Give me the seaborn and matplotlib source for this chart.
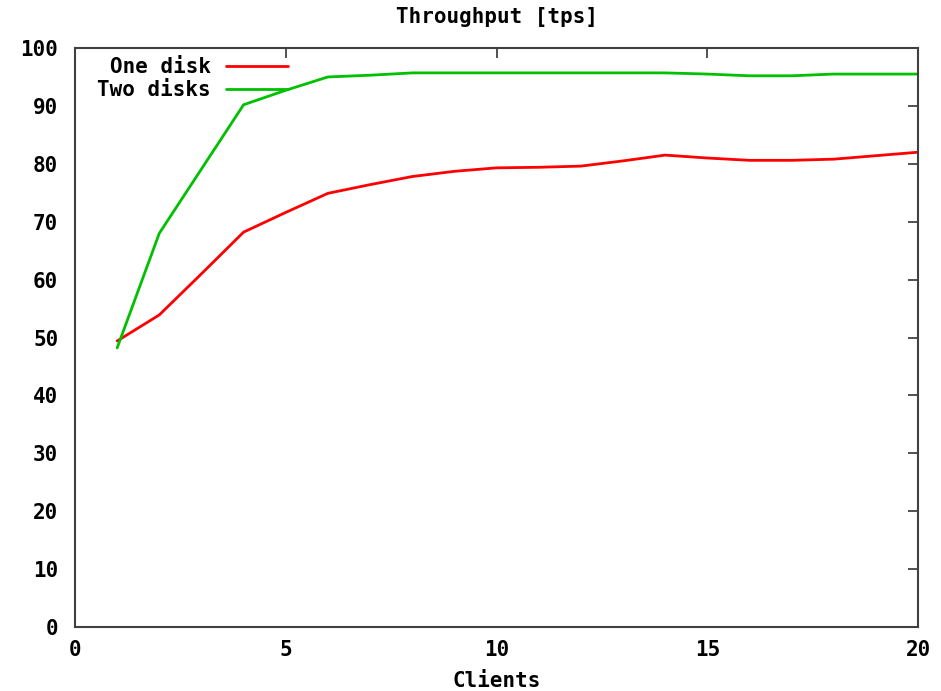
import matplotlib
matplotlib.use("Agg")
import matplotlib.pyplot as plt
import seaborn as sns
import pandas as pd

clients = [1, 2, 3, 4, 5, 6, 7, 8, 9, 10, 11, 12, 13, 14, 15, 16, 17, 18, 19, 20]
one_disk = [49.4, 53.9, 61.0, 68.2, 71.6, 74.9, 76.4, 77.8, 78.7, 79.3, 79.4, 79.6, 80.5, 81.5, 81.0, 80.6, 80.6, 80.8, 81.4, 82.0]
two_disks = [48.2, 68.0, 79.1, 90.2, 92.7, 95.0, 95.3, 95.7, 95.7, 95.7, 95.7, 95.7, 95.7, 95.7, 95.5, 95.2, 95.2, 95.5, 95.5, 95.5]
series_names = ["One disk", "Two disks"]
series_colors = ["#ff0000", "#00c000"]
title = "Throughput [tps]"
xlabel = "Clients"
xticks = [0, 5, 10, 15, 20]
yticks = [0, 10, 20, 30, 40, 50, 60, 70, 80, 90, 100]

df = pd.DataFrame({
    "Clients": clients * 2,
    "tps": one_disk + two_disks,
    "series": [series_names[0]] * len(clients) + [series_names[1]] * len(clients),
})

sns.set_theme(style="white")
plt.rcParams["font.family"] = ["DejaVu Sans Mono"]
plt.rcParams["font.size"] = 15
plt.rcParams["text.color"] = "black"
plt.rcParams["axes.labelcolor"] = "black"

fig = plt.figure(figsize=(9.41, 6.91), dpi=100)
ax = fig.add_axes([75 / 941, 1 - 627 / 691, (918 - 75) / 941, (627 - 48) / 691])

sns.lineplot(data=df, x="Clients", y="tps", hue="series", hue_order=series_names,
             palette=series_colors, linewidth=2.0, ax=ax, legend=True)

ax.set_xlim(0, 20)
ax.set_ylim(0, 100)
ax.set_xticks(xticks)
ax.set_yticks(yticks)
ax.tick_params(direction="in", length=7, width=1.2, color="#333333",
               top=True, right=True, labelsize=15, labelcolor="black")
ax.tick_params(axis="y", pad=12)
ax.tick_params(axis="x", pad=9)
for lab in ax.get_xticklabels() + ax.get_yticklabels():
    lab.set_fontweight("bold")
for s in ax.spines.values():
    s.set_color("#404040")
    s.set_linewidth(1.5)

ax.set_title(title, fontsize=15, pad=18, fontweight="bold", color="black")
ax.set_xlabel(xlabel, fontsize=15, labelpad=8, fontweight="bold")
ax.set_ylabel("")

handles, labels = ax.get_legend_handles_labels()
leg = ax.legend(handles, labels, loc="upper right", bbox_to_anchor=((288 - 75) / 843, (627 - 57) / 579),
                markerfirst=False, frameon=False, borderpad=0, handlelength=3.0,
                handletextpad=0.7, labelspacing=0.15, fontsize=15, borderaxespad=0)
for t in leg.get_texts():
    t.set_fontweight("bold")
    t.set_color("black")

fig.savefig("out.png", dpi=100)
